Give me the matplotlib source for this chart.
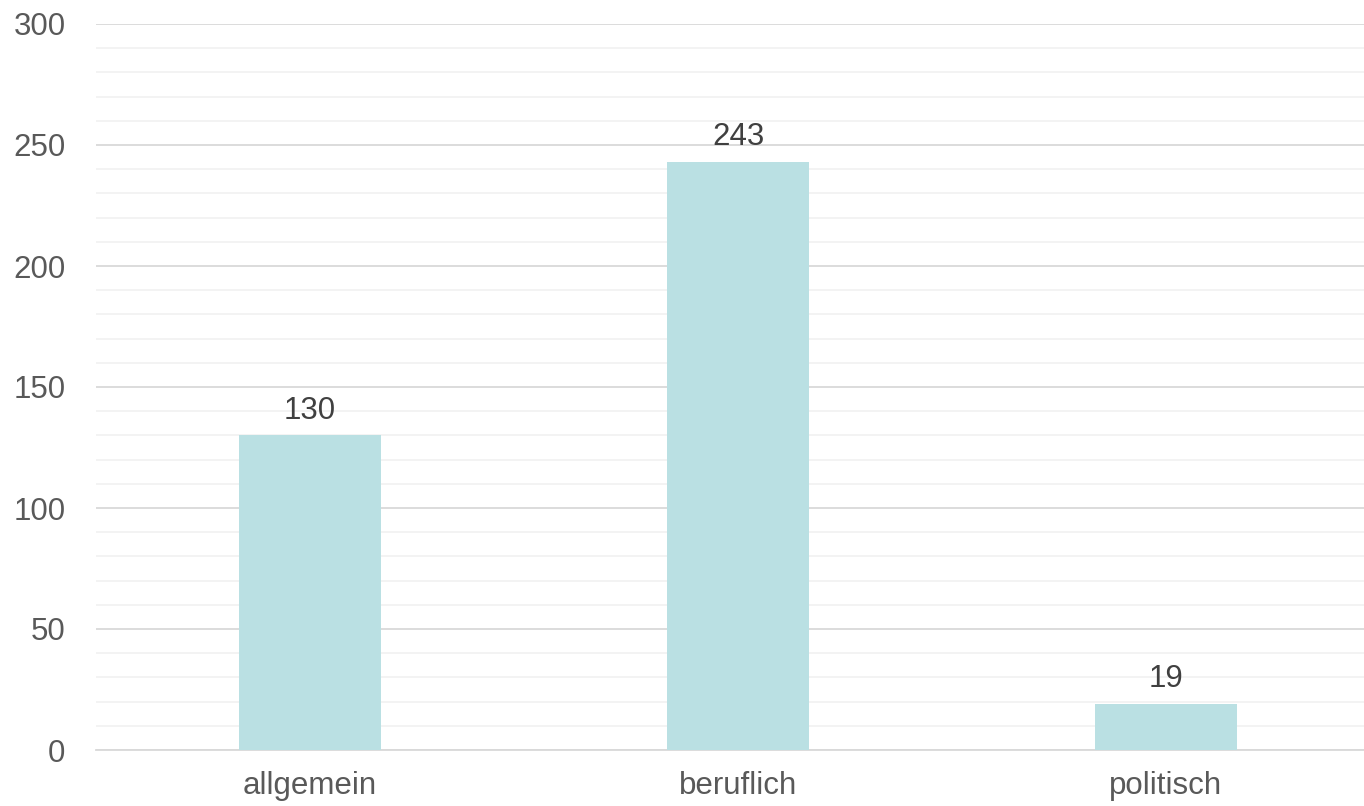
import matplotlib
matplotlib.use("Agg")
import matplotlib.pyplot as plt
from matplotlib.ticker import MultipleLocator

categories = ["allgemein", "beruflich", "politisch"]
values = [130, 243, 19]

plt.rcParams['font.family'] = ['Liberation Sans', 'DejaVu Sans']

fig = plt.figure(figsize=(13.64, 8.06), dpi=100)
W, H = 1364, 806
left, right, top, bottom = 96, 1380, 24, 750
ax = fig.add_axes([left / W, 1 - bottom / H, (right - left) / W, (bottom - top) / H])

x = range(len(categories))
bars = ax.bar(x, values, width=0.334, color="#BAE0E3", zorder=3)
for xi, v in zip(x, values):
    ax.text(xi, v + 4, str(v), ha="center", va="bottom", fontsize=22.5, color="#404040", zorder=4)

ax.set_xlim(-0.5, 2.5)
ax.set_ylim(0, 300)
ax.yaxis.set_major_locator(MultipleLocator(50))
ax.yaxis.set_minor_locator(MultipleLocator(10))
ax.grid(axis="y", which="major", color="#D9D9D9", linewidth=1.3, zorder=1)
ax.grid(axis="y", which="minor", color="#F2F2F2", linewidth=1.3, zorder=0)
ax.set_xticks(list(x))
ax.set_xticklabels(categories)
for s in ["top", "right", "left"]:
    ax.spines[s].set_visible(False)
ax.spines["bottom"].set_color("#D9D9D9")
ax.spines["bottom"].set_linewidth(1.3)
ax.tick_params(axis="both", which="both", length=0, labelsize=22.5, labelcolor="#595959")
ax.tick_params(axis="y", pad=22)
ax.tick_params(axis="x", pad=15)

fig.savefig("out.png", dpi=100)
